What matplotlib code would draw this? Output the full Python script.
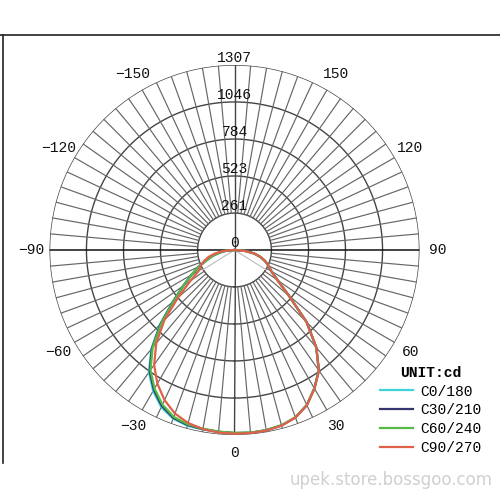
import numpy as np
import matplotlib.pyplot as plt
from matplotlib.lines import Line2D

# gamma angles (deg), 0 = straight down, positive to the right
gamma = list(range(-90, 95, 5))

c0_180 = [0, 60, 110, 160, 210, 280, 350, 445, 570, 745, 915, 1055, 1150, 1225, 1268, 1285, 1288, 1290, 1294,
          1296, 1293, 1283, 1259, 1209, 1129, 1039, 899, 721, 501, 371, 301, 266, 231, 191, 141, 76, 0]
c30_210 = [0, 60, 110, 160, 210, 280, 350, 442, 565, 738, 908, 1045, 1140, 1215, 1262, 1280, 1285, 1289, 1293,
           1296, 1293, 1283, 1259, 1209, 1129, 1039, 899, 721, 501, 371, 301, 266, 231, 191, 141, 76, 0]
c60_240 = [0, 60, 110, 160, 210, 280, 350, 440, 560, 730, 900, 1035, 1130, 1205, 1255, 1275, 1282, 1288, 1292,
           1295, 1292, 1282, 1258, 1208, 1128, 1038, 898, 720, 500, 370, 300, 265, 230, 190, 140, 75, 0]
c90_270 = [0, 75, 140, 190, 230, 265, 290, 380, 520, 700, 860, 990, 1090, 1170, 1230, 1265, 1285, 1295, 1298,
           1298, 1295, 1285, 1260, 1210, 1130, 1040, 900, 720, 500, 370, 300, 265, 230, 190, 140, 75, 0]

series_names = ['C0/180', 'C30/210', 'C60/240', 'C90/270']
series_colors = ['#3fd3dc', '#34346e', '#55bb44', '#e0604a']

ring_values = [261, 523, 784, 1046, 1307]
angle_labels = [-150, -120, -90, -60, -30, 0, 30, 60, 90, 120, 150]

mono = 'Liberation Mono'

fig = plt.figure(figsize=(5, 5), dpi=100)
ax = fig.add_axes([0.099, 0.13, 0.74, 0.74], projection='polar')
ax.set_theta_zero_location('S')
ax.set_theta_direction(1)
ax.set_ylim(0, 1307)
ax.set_xticks([])
ax.set_yticks([])
ax.grid(False)
ax.spines['polar'].set_visible(False)

# grid: rings and 5 degree spokes
tc = np.linspace(0, 2 * np.pi, 721)
for rv in ring_values:
    ax.plot(tc, np.full_like(tc, rv), color='#444444', lw=1.0, zorder=1)
for d in range(0, 360, 5):
    if d % 90 == 0:
        continue
    ax.plot([np.radians(d)] * 2, [261, 1307], color='#666666', lw=0.85, zorder=1)
ax.plot([0, 0], [0, 1307], color='#444444', lw=1.0, zorder=1)
ax.plot([np.pi, np.pi], [0, 1307], color='#444444', lw=1.0, zorder=1)
ax.plot([np.pi / 2, np.pi / 2], [0, 1307], color='#111111', lw=1.1, zorder=1)
ax.plot([-np.pi / 2, -np.pi / 2], [0, 1307], color='#111111', lw=1.1, zorder=1)
# faint lines inside the hub
for d in (-58, 58):
    ax.plot([np.radians(d)] * 2, [0, 261], color='#bbbbbb', lw=0.8, zorder=1)

th = np.radians(gamma)
for vals, name, col in zip([c0_180, c30_210, c60_240, c90_270], series_names, series_colors):
    ax.plot(th, vals, color=col, lw=1.6, label=name, zorder=3)

# radial labels along the top
ax.text(np.pi, 50, '0', family=mono, fontsize=10.5, ha='center', va='center', color='#111111')
for rv in ring_values:
    ax.text(np.pi, rv + 50, str(rv), family=mono, fontsize=10.5, ha='center', va='center', color='#111111')

# angle labels
for a in angle_labels:
    ax.text(np.radians(a), 1435, str(a).replace('-', '\u2212'), family=mono, fontsize=10.5,
            ha='center', va='center', color='#111111')

leg = ax.legend(loc='upper left', bbox_to_anchor=(0.745, 0.283), bbox_transform=fig.transFigure,
                frameon=False, title='UNIT:cd', prop={'family': mono, 'size': 10.5},
                handlelength=2.3, handletextpad=0.5, labelspacing=0.33, borderpad=0)
leg.get_title().set_fontproperties({'family': mono, 'size': 10.5, 'weight': 'bold'})

# frame lines of the picture
fig.add_artist(Line2D([0, 1], [0.93, 0.93], color='#222222', lw=1.2, transform=fig.transFigure))
fig.add_artist(Line2D([0.006, 0.006], [0.074, 0.93], color='#222222', lw=1.2, transform=fig.transFigure))

fig.text(0.985, 0.04, 'upek.store.bossgoo.com', fontsize=12, color='#d0d0d0', ha='right', va='center')

fig.savefig('out.png', dpi=100)
